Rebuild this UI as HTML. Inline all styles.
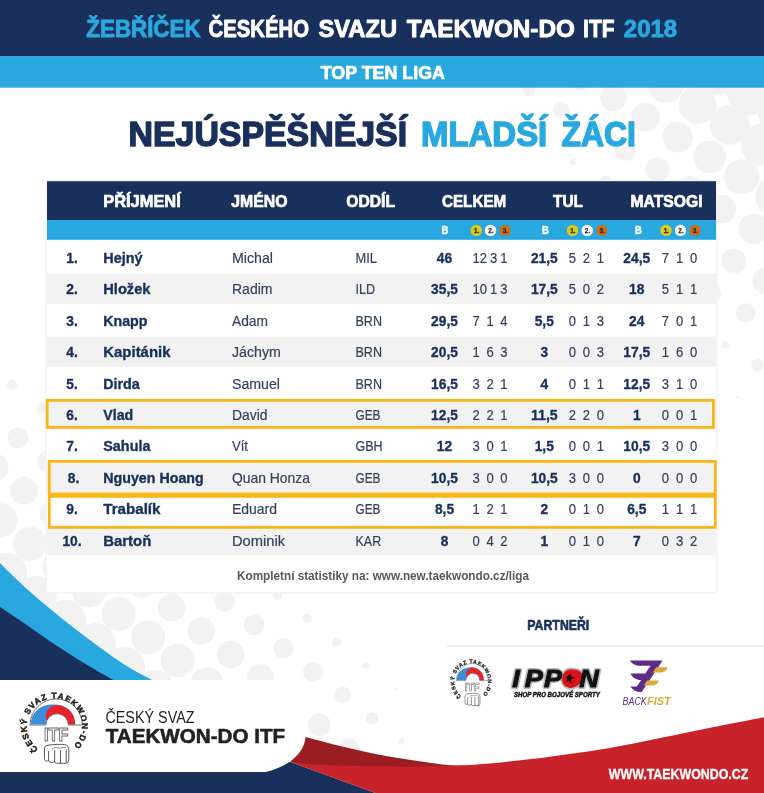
<!DOCTYPE html>
<html lang="cs"><head><meta charset="utf-8"><title>Žebříček Českého svazu Taekwon-Do ITF 2018</title>
<style>
html,body{margin:0;padding:0;background:#fff}
body{width:764px;height:793px;overflow:hidden}
svg{display:block;font-family:"Liberation Sans",sans-serif}
</style></head><body>
<svg width="764" height="793" viewBox="0 0 764 793">
<defs><clipPath id="cbody"><rect x="0" y="87" width="764" height="706"/></clipPath></defs>
<g fill="#f2f2f2" clip-path="url(#cbody)"><circle cx="464.9" cy="50.6" r="1.3"/><circle cx="497.0" cy="70.4" r="3.1"/><circle cx="549.2" cy="58.0" r="11.0"/><circle cx="529.1" cy="90.2" r="6.1"/><circle cx="581.3" cy="77.8" r="12.2"/><circle cx="561.2" cy="110.0" r="8.1"/><circle cx="541.1" cy="142.2" r="1.3"/><circle cx="633.5" cy="65.4" r="16.2"/><circle cx="613.4" cy="97.6" r="13.3"/><circle cx="593.3" cy="129.8" r="9.7"/><circle cx="573.2" cy="162.0" r="3.3"/><circle cx="685.7" cy="53.0" r="21.0"/><circle cx="665.6" cy="85.2" r="17.6"/><circle cx="645.5" cy="117.4" r="14.3"/><circle cx="625.4" cy="149.6" r="11.0"/><circle cx="605.3" cy="181.8" r="6.2"/><circle cx="585.2" cy="214.0" r="1.3"/><circle cx="717.8" cy="72.8" r="22.0"/><circle cx="697.7" cy="105.0" r="18.8"/><circle cx="677.6" cy="137.2" r="15.2"/><circle cx="657.5" cy="169.4" r="12.2"/><circle cx="637.4" cy="201.6" r="8.2"/><circle cx="617.3" cy="233.8" r="1.3"/><circle cx="770.0" cy="60.4" r="25.0"/><circle cx="749.9" cy="92.6" r="23.0"/><circle cx="729.8" cy="124.8" r="19.9"/><circle cx="709.7" cy="157.0" r="16.3"/><circle cx="689.6" cy="189.2" r="13.3"/><circle cx="669.5" cy="221.4" r="9.7"/><circle cx="649.4" cy="253.6" r="3.4"/><circle cx="782.0" cy="112.4" r="24.0"/><circle cx="761.9" cy="144.6" r="21.0"/><circle cx="741.8" cy="176.8" r="17.6"/><circle cx="721.7" cy="209.0" r="14.3"/><circle cx="701.6" cy="241.2" r="11.1"/><circle cx="681.5" cy="273.4" r="6.3"/><circle cx="661.4" cy="305.6" r="1.3"/><circle cx="794.0" cy="164.4" r="22.1"/><circle cx="773.9" cy="196.6" r="18.8"/><circle cx="753.8" cy="228.8" r="15.3"/><circle cx="733.7" cy="261.0" r="12.3"/><circle cx="713.6" cy="293.2" r="8.2"/><circle cx="693.5" cy="325.4" r="1.3"/><circle cx="785.9" cy="248.6" r="16.3"/><circle cx="765.8" cy="280.8" r="13.3"/><circle cx="745.7" cy="313.0" r="9.8"/><circle cx="725.6" cy="345.2" r="3.6"/><circle cx="777.8" cy="332.8" r="11.1"/><circle cx="757.7" cy="365.0" r="6.4"/><circle cx="737.6" cy="397.2" r="1.3"/><circle cx="789.8" cy="384.8" r="8.3"/><circle cx="769.7" cy="417.0" r="1.3"/></g>
<g fill="#f2f2f2" clip-path="url(#cbody)"><circle cx="-17.5" cy="361.4" r="5.1"/><circle cx="12.0" cy="384.8" r="5.1"/><circle cx="-11.5" cy="414.4" r="10.5"/><circle cx="41.5" cy="408.2" r="5.1"/><circle cx="18.0" cy="437.8" r="10.4"/><circle cx="-5.5" cy="467.4" r="13.9"/><circle cx="-29.0" cy="496.9" r="17.1"/><circle cx="71.0" cy="431.6" r="5.0"/><circle cx="47.5" cy="461.2" r="10.4"/><circle cx="24.0" cy="490.8" r="13.9"/><circle cx="0.6" cy="520.3" r="17.1"/><circle cx="-22.9" cy="549.9" r="20.6"/><circle cx="100.5" cy="455.0" r="5.0"/><circle cx="77.0" cy="484.6" r="10.4"/><circle cx="53.6" cy="514.1" r="13.8"/><circle cx="30.1" cy="543.7" r="17.0"/><circle cx="6.6" cy="573.3" r="20.6"/><circle cx="-16.9" cy="602.9" r="23.6"/><circle cx="130.0" cy="478.4" r="4.9"/><circle cx="106.6" cy="507.9" r="10.4"/><circle cx="83.1" cy="537.5" r="13.8"/><circle cx="59.6" cy="567.1" r="17.0"/><circle cx="36.1" cy="596.7" r="20.6"/><circle cx="12.6" cy="626.3" r="23.6"/><circle cx="-10.9" cy="655.9" r="25.0"/><circle cx="159.6" cy="501.7" r="4.9"/><circle cx="136.1" cy="531.3" r="10.4"/><circle cx="112.6" cy="560.9" r="13.8"/><circle cx="89.1" cy="590.5" r="17.0"/><circle cx="65.6" cy="620.1" r="20.5"/><circle cx="42.1" cy="649.7" r="23.6"/><circle cx="18.6" cy="679.3" r="25.0"/><circle cx="-4.9" cy="708.9" r="25.0"/><circle cx="-28.4" cy="738.5" r="25.0"/><circle cx="189.1" cy="525.1" r="4.8"/><circle cx="165.6" cy="554.7" r="10.3"/><circle cx="142.1" cy="584.3" r="13.8"/><circle cx="118.6" cy="613.9" r="17.0"/><circle cx="95.1" cy="643.5" r="20.5"/><circle cx="71.6" cy="673.1" r="23.6"/><circle cx="48.1" cy="702.7" r="25.0"/><circle cx="24.6" cy="732.3" r="25.0"/><circle cx="1.2" cy="761.9" r="25.0"/><circle cx="-22.3" cy="791.4" r="25.0"/><circle cx="218.6" cy="548.5" r="4.8"/><circle cx="195.1" cy="578.1" r="10.3"/><circle cx="171.6" cy="607.7" r="13.8"/><circle cx="148.1" cy="637.3" r="17.0"/><circle cx="124.6" cy="666.9" r="20.5"/><circle cx="101.1" cy="696.5" r="23.5"/><circle cx="77.6" cy="726.1" r="25.0"/><circle cx="54.2" cy="755.7" r="25.0"/><circle cx="30.7" cy="785.2" r="25.0"/><circle cx="7.2" cy="814.8" r="25.0"/><circle cx="248.1" cy="571.9" r="4.7"/><circle cx="224.6" cy="601.5" r="10.3"/><circle cx="201.1" cy="631.1" r="13.8"/><circle cx="177.6" cy="660.7" r="16.9"/><circle cx="154.1" cy="690.3" r="20.5"/><circle cx="130.6" cy="719.9" r="23.4"/><circle cx="107.1" cy="749.5" r="25.0"/><circle cx="83.7" cy="779.0" r="25.0"/><circle cx="60.2" cy="808.6" r="25.0"/><circle cx="277.6" cy="595.3" r="4.7"/><circle cx="254.1" cy="624.9" r="10.3"/><circle cx="230.6" cy="654.5" r="13.7"/><circle cx="207.1" cy="684.1" r="16.9"/><circle cx="183.6" cy="713.7" r="20.0"/><circle cx="160.2" cy="743.2" r="22.3"/><circle cx="136.7" cy="772.8" r="24.4"/><circle cx="113.2" cy="802.4" r="25.0"/><circle cx="307.1" cy="618.7" r="4.7"/><circle cx="283.6" cy="648.3" r="10.3"/><circle cx="260.1" cy="677.9" r="13.7"/><circle cx="236.6" cy="707.5" r="16.0"/><circle cx="213.2" cy="737.0" r="18.7"/><circle cx="189.7" cy="766.6" r="21.2"/><circle cx="166.2" cy="796.2" r="23.4"/><circle cx="336.6" cy="642.1" r="4.6"/><circle cx="313.1" cy="671.7" r="10.0"/><circle cx="289.6" cy="701.3" r="12.7"/><circle cx="266.1" cy="730.9" r="14.9"/><circle cx="242.7" cy="760.4" r="17.4"/><circle cx="219.2" cy="790.0" r="20.0"/><circle cx="195.7" cy="819.6" r="22.3"/><circle cx="366.1" cy="665.5" r="3.1"/><circle cx="342.6" cy="695.1" r="8.4"/><circle cx="319.1" cy="724.7" r="11.4"/><circle cx="295.7" cy="754.2" r="13.8"/><circle cx="272.2" cy="783.8" r="15.9"/><circle cx="248.7" cy="813.4" r="18.7"/><circle cx="395.6" cy="688.9" r="1.3"/><circle cx="372.1" cy="718.5" r="6.3"/><circle cx="348.7" cy="748.0" r="10.0"/><circle cx="325.2" cy="777.6" r="12.7"/><circle cx="301.7" cy="807.2" r="14.9"/><circle cx="401.7" cy="741.8" r="2.9"/><circle cx="378.2" cy="771.4" r="8.3"/><circle cx="354.7" cy="801.0" r="11.4"/><circle cx="431.2" cy="765.2" r="1.3"/><circle cx="407.7" cy="794.8" r="6.2"/><circle cx="437.2" cy="818.2" r="2.6"/></g>
<rect x="0" y="0" width="764" height="56.5" fill="#1a305c"/>
<rect x="0" y="56.3" width="764" height="31.4" fill="#29a8e0"/>
<text x="86.35" y="37.00" font-size="24" font-weight="bold" stroke="#29a8e0" stroke-width="0.9" stroke-linejoin="round" fill="#29a8e0" text-anchor="start" textLength="114.20" lengthAdjust="spacingAndGlyphs">ŽEBŘÍČEK</text>
<text x="208.55" y="37.00" font-size="24" font-weight="bold" stroke="#fff" stroke-width="0.9" stroke-linejoin="round" fill="#fff" text-anchor="start" textLength="100.40" lengthAdjust="spacingAndGlyphs">ČESKÉHO</text>
<text x="318.45" y="37.00" font-size="24" font-weight="bold" stroke="#fff" stroke-width="0.9" stroke-linejoin="round" fill="#fff" text-anchor="start" textLength="78.60" lengthAdjust="spacingAndGlyphs">SVAZU</text>
<text x="406.65" y="37.00" font-size="24" font-weight="bold" stroke="#fff" stroke-width="0.9" stroke-linejoin="round" fill="#fff" text-anchor="start" textLength="168.20" lengthAdjust="spacingAndGlyphs">TAEKWON-DO</text>
<text x="583.05" y="37.00" font-size="24" font-weight="bold" stroke="#fff" stroke-width="0.9" stroke-linejoin="round" fill="#fff" text-anchor="start" textLength="31.50" lengthAdjust="spacingAndGlyphs">ITF</text>
<text x="623.85" y="37.00" font-size="24" font-weight="bold" stroke="#29a8e0" stroke-width="0.9" stroke-linejoin="round" fill="#29a8e0" text-anchor="start" textLength="53.20" lengthAdjust="spacingAndGlyphs">2018</text>
<text x="320.80" y="79.00" font-size="17.9" font-weight="bold" stroke="#fff" stroke-width="0.7" stroke-linejoin="round" fill="#fff" text-anchor="start" textLength="124.10" lengthAdjust="spacingAndGlyphs">TOP TEN LIGA</text>
<text x="128.55" y="146.00" font-size="34.9" font-weight="bold" stroke="#1a305c" stroke-width="1.5" stroke-linejoin="round" fill="#1a305c" text-anchor="start" textLength="278.50" lengthAdjust="spacingAndGlyphs">NEJÚSPĚŠNĚJŠÍ</text>
<text x="421.05" y="146.00" font-size="34.9" font-weight="bold" stroke="#29a8e0" stroke-width="1.5" stroke-linejoin="round" fill="#29a8e0" text-anchor="start" textLength="126.20" lengthAdjust="spacingAndGlyphs">MLADŠÍ</text>
<text x="561.55" y="146.00" font-size="34.9" font-weight="bold" stroke="#29a8e0" stroke-width="1.5" stroke-linejoin="round" fill="#29a8e0" text-anchor="start" textLength="74.30" lengthAdjust="spacingAndGlyphs">ŽÁCI</text>
<rect x="45.5" y="180" width="672" height="413.6" fill="#f4f4f4"/>
<rect x="47" y="181" width="669" height="411" fill="#fff"/>
<rect x="47" y="181.2" width="669" height="39" fill="#1a305c"/>
<rect x="47" y="220" width="669" height="19.8" fill="#29a8e0"/>
<rect x="47" y="273.5" width="669" height="30.3" fill="#f2f2f2"/>
<rect x="47" y="336.6" width="669" height="30.6" fill="#f2f2f2"/>
<rect x="47" y="399.3" width="669" height="30.2" fill="#f2f2f2"/>
<rect x="47" y="461.5" width="669" height="32.0" fill="#f2f2f2"/>
<rect x="47" y="524.5" width="669" height="30.8" fill="#f2f2f2"/>
<text x="103.25" y="207.00" font-size="17.4" font-weight="bold" stroke="#fff" stroke-width="0.7" stroke-linejoin="round" fill="#fff" text-anchor="start" textLength="77.50" lengthAdjust="spacingAndGlyphs">PŘÍJMENÍ</text>
<text x="231.25" y="207.00" font-size="17.4" font-weight="bold" stroke="#fff" stroke-width="0.7" stroke-linejoin="round" fill="#fff" text-anchor="start" textLength="56.20" lengthAdjust="spacingAndGlyphs">JMÉNO</text>
<text x="346.25" y="207.00" font-size="17.4" font-weight="bold" stroke="#fff" stroke-width="0.7" stroke-linejoin="round" fill="#fff" text-anchor="start" textLength="48.80" lengthAdjust="spacingAndGlyphs">ODDÍL</text>
<text x="442.00" y="207.00" font-size="17.4" font-weight="bold" stroke="#fff" stroke-width="0.7" stroke-linejoin="round" fill="#fff" text-anchor="start" textLength="64.20" lengthAdjust="spacingAndGlyphs">CELKEM</text>
<text x="553.00" y="207.00" font-size="17.4" font-weight="bold" stroke="#fff" stroke-width="0.7" stroke-linejoin="round" fill="#fff" text-anchor="start" textLength="30.00" lengthAdjust="spacingAndGlyphs">TUL</text>
<text x="630.50" y="207.00" font-size="17.4" font-weight="bold" stroke="#fff" stroke-width="0.7" stroke-linejoin="round" fill="#fff" text-anchor="start" textLength="72.00" lengthAdjust="spacingAndGlyphs">MATSOGI</text>
<text x="445.00" y="234.00" font-size="11" font-weight="bold" stroke="#fff" stroke-width="0.5" stroke-linejoin="round" fill="#fff" text-anchor="middle" textLength="6.80" lengthAdjust="spacingAndGlyphs">B</text>
<text x="545.50" y="234.00" font-size="11" font-weight="bold" stroke="#fff" stroke-width="0.5" stroke-linejoin="round" fill="#fff" text-anchor="middle" textLength="6.80" lengthAdjust="spacingAndGlyphs">B</text>
<text x="638.50" y="234.00" font-size="11" font-weight="bold" stroke="#fff" stroke-width="0.5" stroke-linejoin="round" fill="#fff" text-anchor="middle" textLength="6.80" lengthAdjust="spacingAndGlyphs">B</text>
<circle cx="476.25" cy="230.4" r="5.7" fill="#dccb1f"/>
<text x="476.55" y="232.70" font-size="6.4" font-weight="bold" stroke="#2a2a2a" stroke-width="0.25" stroke-linejoin="round" fill="#2a2a2a" text-anchor="middle">1.</text>
<circle cx="490.5" cy="230.4" r="5.7" fill="#ffffff"/>
<text x="490.80" y="232.70" font-size="6.4" font-weight="bold" stroke="#2a2a2a" stroke-width="0.25" stroke-linejoin="round" fill="#2a2a2a" text-anchor="middle">2.</text>
<circle cx="505" cy="230.4" r="5.7" fill="#c8701f"/>
<text x="505.30" y="232.70" font-size="6.4" font-weight="bold" stroke="#2a2a2a" stroke-width="0.25" stroke-linejoin="round" fill="#2a2a2a" text-anchor="middle">3.</text>
<circle cx="572.5" cy="230.4" r="5.7" fill="#dccb1f"/>
<text x="572.80" y="232.70" font-size="6.4" font-weight="bold" stroke="#2a2a2a" stroke-width="0.25" stroke-linejoin="round" fill="#2a2a2a" text-anchor="middle">1.</text>
<circle cx="587.2" cy="230.4" r="5.7" fill="#ffffff"/>
<text x="587.50" y="232.70" font-size="6.4" font-weight="bold" stroke="#2a2a2a" stroke-width="0.25" stroke-linejoin="round" fill="#2a2a2a" text-anchor="middle">2.</text>
<circle cx="601.75" cy="230.4" r="5.7" fill="#c8701f"/>
<text x="602.05" y="232.70" font-size="6.4" font-weight="bold" stroke="#2a2a2a" stroke-width="0.25" stroke-linejoin="round" fill="#2a2a2a" text-anchor="middle">3.</text>
<circle cx="666" cy="230.4" r="5.7" fill="#dccb1f"/>
<text x="666.30" y="232.70" font-size="6.4" font-weight="bold" stroke="#2a2a2a" stroke-width="0.25" stroke-linejoin="round" fill="#2a2a2a" text-anchor="middle">1.</text>
<circle cx="680.5" cy="230.4" r="5.7" fill="#ffffff"/>
<text x="680.80" y="232.70" font-size="6.4" font-weight="bold" stroke="#2a2a2a" stroke-width="0.25" stroke-linejoin="round" fill="#2a2a2a" text-anchor="middle">2.</text>
<circle cx="695" cy="230.4" r="5.7" fill="#c8701f"/>
<text x="695.30" y="232.70" font-size="6.4" font-weight="bold" stroke="#2a2a2a" stroke-width="0.25" stroke-linejoin="round" fill="#2a2a2a" text-anchor="middle">3.</text>
<text x="72.00" y="263.00" font-size="14.5" font-weight="bold" stroke="#1a305c" stroke-width="0.35" stroke-linejoin="round" fill="#1a305c" text-anchor="middle" textLength="11.49" lengthAdjust="spacingAndGlyphs">1.</text>
<text x="103.25" y="263.00" font-size="14.5" font-weight="bold" stroke="#1a305c" stroke-width="0.35" stroke-linejoin="round" fill="#1a305c" text-anchor="start" textLength="39.25" lengthAdjust="spacingAndGlyphs">Hejný</text>
<text x="232.00" y="263.00" font-size="14.5" font-weight="normal" stroke="#34425f" stroke-width="0.2" stroke-linejoin="round" fill="#34425f" text-anchor="start" textLength="41.00" lengthAdjust="spacingAndGlyphs">Michal</text>
<text x="355.50" y="263.00" font-size="14.5" font-weight="normal" stroke="#34425f" stroke-width="0.2" stroke-linejoin="round" fill="#34425f" text-anchor="start" textLength="21.50" lengthAdjust="spacingAndGlyphs">MIL</text>
<text x="444.50" y="263.00" font-size="14.5" font-weight="bold" stroke="#1a305c" stroke-width="0.35" stroke-linejoin="round" fill="#1a305c" text-anchor="middle" textLength="15.32" lengthAdjust="spacingAndGlyphs">46</text>
<text x="479.85" y="263.00" font-size="14.5" font-weight="normal" stroke="#34425f" stroke-width="0.2" stroke-linejoin="round" fill="#34425f" text-anchor="middle" textLength="14.52" lengthAdjust="spacingAndGlyphs">12</text>
<text x="493.65" y="263.00" font-size="14.5" font-weight="normal" stroke="#34425f" stroke-width="0.2" stroke-linejoin="round" fill="#34425f" text-anchor="middle" textLength="7.26" lengthAdjust="spacingAndGlyphs">3</text>
<text x="504.00" y="263.00" font-size="14.5" font-weight="normal" stroke="#34425f" stroke-width="0.2" stroke-linejoin="round" fill="#34425f" text-anchor="middle" textLength="7.26" lengthAdjust="spacingAndGlyphs">1</text>
<text x="544.30" y="263.00" font-size="14.5" font-weight="bold" stroke="#1a305c" stroke-width="0.35" stroke-linejoin="round" fill="#1a305c" text-anchor="middle" textLength="26.81" lengthAdjust="spacingAndGlyphs">21,5</text>
<text x="572.50" y="263.00" font-size="14.5" font-weight="normal" stroke="#34425f" stroke-width="0.2" stroke-linejoin="round" fill="#34425f" text-anchor="middle" textLength="7.26" lengthAdjust="spacingAndGlyphs">5</text>
<text x="586.40" y="263.00" font-size="14.5" font-weight="normal" stroke="#34425f" stroke-width="0.2" stroke-linejoin="round" fill="#34425f" text-anchor="middle" textLength="7.26" lengthAdjust="spacingAndGlyphs">2</text>
<text x="600.30" y="263.00" font-size="14.5" font-weight="normal" stroke="#34425f" stroke-width="0.2" stroke-linejoin="round" fill="#34425f" text-anchor="middle" textLength="7.26" lengthAdjust="spacingAndGlyphs">1</text>
<text x="636.75" y="263.00" font-size="14.5" font-weight="bold" stroke="#1a305c" stroke-width="0.35" stroke-linejoin="round" fill="#1a305c" text-anchor="middle" textLength="26.81" lengthAdjust="spacingAndGlyphs">24,5</text>
<text x="665.50" y="263.00" font-size="14.5" font-weight="normal" stroke="#34425f" stroke-width="0.2" stroke-linejoin="round" fill="#34425f" text-anchor="middle" textLength="7.26" lengthAdjust="spacingAndGlyphs">7</text>
<text x="679.75" y="263.00" font-size="14.5" font-weight="normal" stroke="#34425f" stroke-width="0.2" stroke-linejoin="round" fill="#34425f" text-anchor="middle" textLength="7.26" lengthAdjust="spacingAndGlyphs">1</text>
<text x="693.75" y="263.00" font-size="14.5" font-weight="normal" stroke="#34425f" stroke-width="0.2" stroke-linejoin="round" fill="#34425f" text-anchor="middle" textLength="7.26" lengthAdjust="spacingAndGlyphs">0</text>
<text x="72.00" y="294.40" font-size="14.5" font-weight="bold" stroke="#1a305c" stroke-width="0.35" stroke-linejoin="round" fill="#1a305c" text-anchor="middle" textLength="11.49" lengthAdjust="spacingAndGlyphs">2.</text>
<text x="103.25" y="294.40" font-size="14.5" font-weight="bold" stroke="#1a305c" stroke-width="0.35" stroke-linejoin="round" fill="#1a305c" text-anchor="start" textLength="47.25" lengthAdjust="spacingAndGlyphs">Hložek</text>
<text x="232.00" y="294.40" font-size="14.5" font-weight="normal" stroke="#34425f" stroke-width="0.2" stroke-linejoin="round" fill="#34425f" text-anchor="start" textLength="40.50" lengthAdjust="spacingAndGlyphs">Radim</text>
<text x="355.50" y="294.40" font-size="14.5" font-weight="normal" stroke="#34425f" stroke-width="0.2" stroke-linejoin="round" fill="#34425f" text-anchor="start" textLength="19.50" lengthAdjust="spacingAndGlyphs">ILD</text>
<text x="444.50" y="294.40" font-size="14.5" font-weight="bold" stroke="#1a305c" stroke-width="0.35" stroke-linejoin="round" fill="#1a305c" text-anchor="middle" textLength="26.81" lengthAdjust="spacingAndGlyphs">35,5</text>
<text x="479.85" y="294.40" font-size="14.5" font-weight="normal" stroke="#34425f" stroke-width="0.2" stroke-linejoin="round" fill="#34425f" text-anchor="middle" textLength="14.52" lengthAdjust="spacingAndGlyphs">10</text>
<text x="493.65" y="294.40" font-size="14.5" font-weight="normal" stroke="#34425f" stroke-width="0.2" stroke-linejoin="round" fill="#34425f" text-anchor="middle" textLength="7.26" lengthAdjust="spacingAndGlyphs">1</text>
<text x="504.00" y="294.40" font-size="14.5" font-weight="normal" stroke="#34425f" stroke-width="0.2" stroke-linejoin="round" fill="#34425f" text-anchor="middle" textLength="7.26" lengthAdjust="spacingAndGlyphs">3</text>
<text x="544.30" y="294.40" font-size="14.5" font-weight="bold" stroke="#1a305c" stroke-width="0.35" stroke-linejoin="round" fill="#1a305c" text-anchor="middle" textLength="26.81" lengthAdjust="spacingAndGlyphs">17,5</text>
<text x="572.50" y="294.40" font-size="14.5" font-weight="normal" stroke="#34425f" stroke-width="0.2" stroke-linejoin="round" fill="#34425f" text-anchor="middle" textLength="7.26" lengthAdjust="spacingAndGlyphs">5</text>
<text x="586.40" y="294.40" font-size="14.5" font-weight="normal" stroke="#34425f" stroke-width="0.2" stroke-linejoin="round" fill="#34425f" text-anchor="middle" textLength="7.26" lengthAdjust="spacingAndGlyphs">0</text>
<text x="600.30" y="294.40" font-size="14.5" font-weight="normal" stroke="#34425f" stroke-width="0.2" stroke-linejoin="round" fill="#34425f" text-anchor="middle" textLength="7.26" lengthAdjust="spacingAndGlyphs">2</text>
<text x="636.75" y="294.40" font-size="14.5" font-weight="bold" stroke="#1a305c" stroke-width="0.35" stroke-linejoin="round" fill="#1a305c" text-anchor="middle" textLength="15.32" lengthAdjust="spacingAndGlyphs">18</text>
<text x="665.50" y="294.40" font-size="14.5" font-weight="normal" stroke="#34425f" stroke-width="0.2" stroke-linejoin="round" fill="#34425f" text-anchor="middle" textLength="7.26" lengthAdjust="spacingAndGlyphs">5</text>
<text x="679.75" y="294.40" font-size="14.5" font-weight="normal" stroke="#34425f" stroke-width="0.2" stroke-linejoin="round" fill="#34425f" text-anchor="middle" textLength="7.26" lengthAdjust="spacingAndGlyphs">1</text>
<text x="693.75" y="294.40" font-size="14.5" font-weight="normal" stroke="#34425f" stroke-width="0.2" stroke-linejoin="round" fill="#34425f" text-anchor="middle" textLength="7.26" lengthAdjust="spacingAndGlyphs">1</text>
<text x="72.00" y="325.80" font-size="14.5" font-weight="bold" stroke="#1a305c" stroke-width="0.35" stroke-linejoin="round" fill="#1a305c" text-anchor="middle" textLength="11.49" lengthAdjust="spacingAndGlyphs">3.</text>
<text x="103.25" y="325.80" font-size="14.5" font-weight="bold" stroke="#1a305c" stroke-width="0.35" stroke-linejoin="round" fill="#1a305c" text-anchor="start" textLength="44.25" lengthAdjust="spacingAndGlyphs">Knapp</text>
<text x="232.00" y="325.80" font-size="14.5" font-weight="normal" stroke="#34425f" stroke-width="0.2" stroke-linejoin="round" fill="#34425f" text-anchor="start" textLength="36.00" lengthAdjust="spacingAndGlyphs">Adam</text>
<text x="355.50" y="325.80" font-size="14.5" font-weight="normal" stroke="#34425f" stroke-width="0.2" stroke-linejoin="round" fill="#34425f" text-anchor="start" textLength="26.50" lengthAdjust="spacingAndGlyphs">BRN</text>
<text x="444.50" y="325.80" font-size="14.5" font-weight="bold" stroke="#1a305c" stroke-width="0.35" stroke-linejoin="round" fill="#1a305c" text-anchor="middle" textLength="26.81" lengthAdjust="spacingAndGlyphs">29,5</text>
<text x="476.25" y="325.80" font-size="14.5" font-weight="normal" stroke="#34425f" stroke-width="0.2" stroke-linejoin="round" fill="#34425f" text-anchor="middle" textLength="7.26" lengthAdjust="spacingAndGlyphs">7</text>
<text x="490.25" y="325.80" font-size="14.5" font-weight="normal" stroke="#34425f" stroke-width="0.2" stroke-linejoin="round" fill="#34425f" text-anchor="middle" textLength="7.26" lengthAdjust="spacingAndGlyphs">1</text>
<text x="504.00" y="325.80" font-size="14.5" font-weight="normal" stroke="#34425f" stroke-width="0.2" stroke-linejoin="round" fill="#34425f" text-anchor="middle" textLength="7.26" lengthAdjust="spacingAndGlyphs">4</text>
<text x="544.30" y="325.80" font-size="14.5" font-weight="bold" stroke="#1a305c" stroke-width="0.35" stroke-linejoin="round" fill="#1a305c" text-anchor="middle" textLength="19.15" lengthAdjust="spacingAndGlyphs">5,5</text>
<text x="572.50" y="325.80" font-size="14.5" font-weight="normal" stroke="#34425f" stroke-width="0.2" stroke-linejoin="round" fill="#34425f" text-anchor="middle" textLength="7.26" lengthAdjust="spacingAndGlyphs">0</text>
<text x="586.40" y="325.80" font-size="14.5" font-weight="normal" stroke="#34425f" stroke-width="0.2" stroke-linejoin="round" fill="#34425f" text-anchor="middle" textLength="7.26" lengthAdjust="spacingAndGlyphs">1</text>
<text x="600.30" y="325.80" font-size="14.5" font-weight="normal" stroke="#34425f" stroke-width="0.2" stroke-linejoin="round" fill="#34425f" text-anchor="middle" textLength="7.26" lengthAdjust="spacingAndGlyphs">3</text>
<text x="636.75" y="325.80" font-size="14.5" font-weight="bold" stroke="#1a305c" stroke-width="0.35" stroke-linejoin="round" fill="#1a305c" text-anchor="middle" textLength="15.32" lengthAdjust="spacingAndGlyphs">24</text>
<text x="665.50" y="325.80" font-size="14.5" font-weight="normal" stroke="#34425f" stroke-width="0.2" stroke-linejoin="round" fill="#34425f" text-anchor="middle" textLength="7.26" lengthAdjust="spacingAndGlyphs">7</text>
<text x="679.75" y="325.80" font-size="14.5" font-weight="normal" stroke="#34425f" stroke-width="0.2" stroke-linejoin="round" fill="#34425f" text-anchor="middle" textLength="7.26" lengthAdjust="spacingAndGlyphs">0</text>
<text x="693.75" y="325.80" font-size="14.5" font-weight="normal" stroke="#34425f" stroke-width="0.2" stroke-linejoin="round" fill="#34425f" text-anchor="middle" textLength="7.26" lengthAdjust="spacingAndGlyphs">1</text>
<text x="72.00" y="357.20" font-size="14.5" font-weight="bold" stroke="#1a305c" stroke-width="0.35" stroke-linejoin="round" fill="#1a305c" text-anchor="middle" textLength="11.49" lengthAdjust="spacingAndGlyphs">4.</text>
<text x="103.25" y="357.20" font-size="14.5" font-weight="bold" stroke="#1a305c" stroke-width="0.35" stroke-linejoin="round" fill="#1a305c" text-anchor="start" textLength="67.25" lengthAdjust="spacingAndGlyphs">Kapitánik</text>
<text x="232.00" y="357.20" font-size="14.5" font-weight="normal" stroke="#34425f" stroke-width="0.2" stroke-linejoin="round" fill="#34425f" text-anchor="start" textLength="48.75" lengthAdjust="spacingAndGlyphs">Jáchym</text>
<text x="355.50" y="357.20" font-size="14.5" font-weight="normal" stroke="#34425f" stroke-width="0.2" stroke-linejoin="round" fill="#34425f" text-anchor="start" textLength="26.50" lengthAdjust="spacingAndGlyphs">BRN</text>
<text x="444.50" y="357.20" font-size="14.5" font-weight="bold" stroke="#1a305c" stroke-width="0.35" stroke-linejoin="round" fill="#1a305c" text-anchor="middle" textLength="26.81" lengthAdjust="spacingAndGlyphs">20,5</text>
<text x="476.25" y="357.20" font-size="14.5" font-weight="normal" stroke="#34425f" stroke-width="0.2" stroke-linejoin="round" fill="#34425f" text-anchor="middle" textLength="7.26" lengthAdjust="spacingAndGlyphs">1</text>
<text x="490.25" y="357.20" font-size="14.5" font-weight="normal" stroke="#34425f" stroke-width="0.2" stroke-linejoin="round" fill="#34425f" text-anchor="middle" textLength="7.26" lengthAdjust="spacingAndGlyphs">6</text>
<text x="504.00" y="357.20" font-size="14.5" font-weight="normal" stroke="#34425f" stroke-width="0.2" stroke-linejoin="round" fill="#34425f" text-anchor="middle" textLength="7.26" lengthAdjust="spacingAndGlyphs">3</text>
<text x="544.30" y="357.20" font-size="14.5" font-weight="bold" stroke="#1a305c" stroke-width="0.35" stroke-linejoin="round" fill="#1a305c" text-anchor="middle" textLength="7.66" lengthAdjust="spacingAndGlyphs">3</text>
<text x="572.50" y="357.20" font-size="14.5" font-weight="normal" stroke="#34425f" stroke-width="0.2" stroke-linejoin="round" fill="#34425f" text-anchor="middle" textLength="7.26" lengthAdjust="spacingAndGlyphs">0</text>
<text x="586.40" y="357.20" font-size="14.5" font-weight="normal" stroke="#34425f" stroke-width="0.2" stroke-linejoin="round" fill="#34425f" text-anchor="middle" textLength="7.26" lengthAdjust="spacingAndGlyphs">0</text>
<text x="600.30" y="357.20" font-size="14.5" font-weight="normal" stroke="#34425f" stroke-width="0.2" stroke-linejoin="round" fill="#34425f" text-anchor="middle" textLength="7.26" lengthAdjust="spacingAndGlyphs">3</text>
<text x="636.75" y="357.20" font-size="14.5" font-weight="bold" stroke="#1a305c" stroke-width="0.35" stroke-linejoin="round" fill="#1a305c" text-anchor="middle" textLength="26.81" lengthAdjust="spacingAndGlyphs">17,5</text>
<text x="665.50" y="357.20" font-size="14.5" font-weight="normal" stroke="#34425f" stroke-width="0.2" stroke-linejoin="round" fill="#34425f" text-anchor="middle" textLength="7.26" lengthAdjust="spacingAndGlyphs">1</text>
<text x="679.75" y="357.20" font-size="14.5" font-weight="normal" stroke="#34425f" stroke-width="0.2" stroke-linejoin="round" fill="#34425f" text-anchor="middle" textLength="7.26" lengthAdjust="spacingAndGlyphs">6</text>
<text x="693.75" y="357.20" font-size="14.5" font-weight="normal" stroke="#34425f" stroke-width="0.2" stroke-linejoin="round" fill="#34425f" text-anchor="middle" textLength="7.26" lengthAdjust="spacingAndGlyphs">0</text>
<text x="72.00" y="388.60" font-size="14.5" font-weight="bold" stroke="#1a305c" stroke-width="0.35" stroke-linejoin="round" fill="#1a305c" text-anchor="middle" textLength="11.49" lengthAdjust="spacingAndGlyphs">5.</text>
<text x="103.25" y="388.60" font-size="14.5" font-weight="bold" stroke="#1a305c" stroke-width="0.35" stroke-linejoin="round" fill="#1a305c" text-anchor="start" textLength="36.50" lengthAdjust="spacingAndGlyphs">Dirda</text>
<text x="232.00" y="388.60" font-size="14.5" font-weight="normal" stroke="#34425f" stroke-width="0.2" stroke-linejoin="round" fill="#34425f" text-anchor="start" textLength="48.00" lengthAdjust="spacingAndGlyphs">Samuel</text>
<text x="355.50" y="388.60" font-size="14.5" font-weight="normal" stroke="#34425f" stroke-width="0.2" stroke-linejoin="round" fill="#34425f" text-anchor="start" textLength="26.50" lengthAdjust="spacingAndGlyphs">BRN</text>
<text x="444.50" y="388.60" font-size="14.5" font-weight="bold" stroke="#1a305c" stroke-width="0.35" stroke-linejoin="round" fill="#1a305c" text-anchor="middle" textLength="26.81" lengthAdjust="spacingAndGlyphs">16,5</text>
<text x="476.25" y="388.60" font-size="14.5" font-weight="normal" stroke="#34425f" stroke-width="0.2" stroke-linejoin="round" fill="#34425f" text-anchor="middle" textLength="7.26" lengthAdjust="spacingAndGlyphs">3</text>
<text x="490.25" y="388.60" font-size="14.5" font-weight="normal" stroke="#34425f" stroke-width="0.2" stroke-linejoin="round" fill="#34425f" text-anchor="middle" textLength="7.26" lengthAdjust="spacingAndGlyphs">2</text>
<text x="504.00" y="388.60" font-size="14.5" font-weight="normal" stroke="#34425f" stroke-width="0.2" stroke-linejoin="round" fill="#34425f" text-anchor="middle" textLength="7.26" lengthAdjust="spacingAndGlyphs">1</text>
<text x="544.30" y="388.60" font-size="14.5" font-weight="bold" stroke="#1a305c" stroke-width="0.35" stroke-linejoin="round" fill="#1a305c" text-anchor="middle" textLength="7.66" lengthAdjust="spacingAndGlyphs">4</text>
<text x="572.50" y="388.60" font-size="14.5" font-weight="normal" stroke="#34425f" stroke-width="0.2" stroke-linejoin="round" fill="#34425f" text-anchor="middle" textLength="7.26" lengthAdjust="spacingAndGlyphs">0</text>
<text x="586.40" y="388.60" font-size="14.5" font-weight="normal" stroke="#34425f" stroke-width="0.2" stroke-linejoin="round" fill="#34425f" text-anchor="middle" textLength="7.26" lengthAdjust="spacingAndGlyphs">1</text>
<text x="600.30" y="388.60" font-size="14.5" font-weight="normal" stroke="#34425f" stroke-width="0.2" stroke-linejoin="round" fill="#34425f" text-anchor="middle" textLength="7.26" lengthAdjust="spacingAndGlyphs">1</text>
<text x="636.75" y="388.60" font-size="14.5" font-weight="bold" stroke="#1a305c" stroke-width="0.35" stroke-linejoin="round" fill="#1a305c" text-anchor="middle" textLength="26.81" lengthAdjust="spacingAndGlyphs">12,5</text>
<text x="665.50" y="388.60" font-size="14.5" font-weight="normal" stroke="#34425f" stroke-width="0.2" stroke-linejoin="round" fill="#34425f" text-anchor="middle" textLength="7.26" lengthAdjust="spacingAndGlyphs">3</text>
<text x="679.75" y="388.60" font-size="14.5" font-weight="normal" stroke="#34425f" stroke-width="0.2" stroke-linejoin="round" fill="#34425f" text-anchor="middle" textLength="7.26" lengthAdjust="spacingAndGlyphs">1</text>
<text x="693.75" y="388.60" font-size="14.5" font-weight="normal" stroke="#34425f" stroke-width="0.2" stroke-linejoin="round" fill="#34425f" text-anchor="middle" textLength="7.26" lengthAdjust="spacingAndGlyphs">0</text>
<text x="72.00" y="420.00" font-size="14.5" font-weight="bold" stroke="#1a305c" stroke-width="0.35" stroke-linejoin="round" fill="#1a305c" text-anchor="middle" textLength="11.49" lengthAdjust="spacingAndGlyphs">6.</text>
<text x="103.25" y="420.00" font-size="14.5" font-weight="bold" stroke="#1a305c" stroke-width="0.35" stroke-linejoin="round" fill="#1a305c" text-anchor="start" textLength="30.00" lengthAdjust="spacingAndGlyphs">Vlad</text>
<text x="232.00" y="420.00" font-size="14.5" font-weight="normal" stroke="#34425f" stroke-width="0.2" stroke-linejoin="round" fill="#34425f" text-anchor="start" textLength="35.50" lengthAdjust="spacingAndGlyphs">David</text>
<text x="355.50" y="420.00" font-size="14.5" font-weight="normal" stroke="#34425f" stroke-width="0.2" stroke-linejoin="round" fill="#34425f" text-anchor="start" textLength="25.00" lengthAdjust="spacingAndGlyphs">GEB</text>
<text x="444.50" y="420.00" font-size="14.5" font-weight="bold" stroke="#1a305c" stroke-width="0.35" stroke-linejoin="round" fill="#1a305c" text-anchor="middle" textLength="26.81" lengthAdjust="spacingAndGlyphs">12,5</text>
<text x="476.25" y="420.00" font-size="14.5" font-weight="normal" stroke="#34425f" stroke-width="0.2" stroke-linejoin="round" fill="#34425f" text-anchor="middle" textLength="7.26" lengthAdjust="spacingAndGlyphs">2</text>
<text x="490.25" y="420.00" font-size="14.5" font-weight="normal" stroke="#34425f" stroke-width="0.2" stroke-linejoin="round" fill="#34425f" text-anchor="middle" textLength="7.26" lengthAdjust="spacingAndGlyphs">2</text>
<text x="504.00" y="420.00" font-size="14.5" font-weight="normal" stroke="#34425f" stroke-width="0.2" stroke-linejoin="round" fill="#34425f" text-anchor="middle" textLength="7.26" lengthAdjust="spacingAndGlyphs">1</text>
<text x="544.30" y="420.00" font-size="14.5" font-weight="bold" stroke="#1a305c" stroke-width="0.35" stroke-linejoin="round" fill="#1a305c" text-anchor="middle" textLength="26.81" lengthAdjust="spacingAndGlyphs">11,5</text>
<text x="572.50" y="420.00" font-size="14.5" font-weight="normal" stroke="#34425f" stroke-width="0.2" stroke-linejoin="round" fill="#34425f" text-anchor="middle" textLength="7.26" lengthAdjust="spacingAndGlyphs">2</text>
<text x="586.40" y="420.00" font-size="14.5" font-weight="normal" stroke="#34425f" stroke-width="0.2" stroke-linejoin="round" fill="#34425f" text-anchor="middle" textLength="7.26" lengthAdjust="spacingAndGlyphs">2</text>
<text x="600.30" y="420.00" font-size="14.5" font-weight="normal" stroke="#34425f" stroke-width="0.2" stroke-linejoin="round" fill="#34425f" text-anchor="middle" textLength="7.26" lengthAdjust="spacingAndGlyphs">0</text>
<text x="636.75" y="420.00" font-size="14.5" font-weight="bold" stroke="#1a305c" stroke-width="0.35" stroke-linejoin="round" fill="#1a305c" text-anchor="middle" textLength="7.66" lengthAdjust="spacingAndGlyphs">1</text>
<text x="665.50" y="420.00" font-size="14.5" font-weight="normal" stroke="#34425f" stroke-width="0.2" stroke-linejoin="round" fill="#34425f" text-anchor="middle" textLength="7.26" lengthAdjust="spacingAndGlyphs">0</text>
<text x="679.75" y="420.00" font-size="14.5" font-weight="normal" stroke="#34425f" stroke-width="0.2" stroke-linejoin="round" fill="#34425f" text-anchor="middle" textLength="7.26" lengthAdjust="spacingAndGlyphs">0</text>
<text x="693.75" y="420.00" font-size="14.5" font-weight="normal" stroke="#34425f" stroke-width="0.2" stroke-linejoin="round" fill="#34425f" text-anchor="middle" textLength="7.26" lengthAdjust="spacingAndGlyphs">1</text>
<text x="72.00" y="451.40" font-size="14.5" font-weight="bold" stroke="#1a305c" stroke-width="0.35" stroke-linejoin="round" fill="#1a305c" text-anchor="middle" textLength="11.49" lengthAdjust="spacingAndGlyphs">7.</text>
<text x="103.25" y="451.40" font-size="14.5" font-weight="bold" stroke="#1a305c" stroke-width="0.35" stroke-linejoin="round" fill="#1a305c" text-anchor="start" textLength="47.25" lengthAdjust="spacingAndGlyphs">Sahula</text>
<text x="232.00" y="451.40" font-size="14.5" font-weight="normal" stroke="#34425f" stroke-width="0.2" stroke-linejoin="round" fill="#34425f" text-anchor="start" textLength="16.00" lengthAdjust="spacingAndGlyphs">Vít</text>
<text x="355.50" y="451.40" font-size="14.5" font-weight="normal" stroke="#34425f" stroke-width="0.2" stroke-linejoin="round" fill="#34425f" text-anchor="start" textLength="27.00" lengthAdjust="spacingAndGlyphs">GBH</text>
<text x="444.50" y="451.40" font-size="14.5" font-weight="bold" stroke="#1a305c" stroke-width="0.35" stroke-linejoin="round" fill="#1a305c" text-anchor="middle" textLength="15.32" lengthAdjust="spacingAndGlyphs">12</text>
<text x="476.25" y="451.40" font-size="14.5" font-weight="normal" stroke="#34425f" stroke-width="0.2" stroke-linejoin="round" fill="#34425f" text-anchor="middle" textLength="7.26" lengthAdjust="spacingAndGlyphs">3</text>
<text x="490.25" y="451.40" font-size="14.5" font-weight="normal" stroke="#34425f" stroke-width="0.2" stroke-linejoin="round" fill="#34425f" text-anchor="middle" textLength="7.26" lengthAdjust="spacingAndGlyphs">0</text>
<text x="504.00" y="451.40" font-size="14.5" font-weight="normal" stroke="#34425f" stroke-width="0.2" stroke-linejoin="round" fill="#34425f" text-anchor="middle" textLength="7.26" lengthAdjust="spacingAndGlyphs">1</text>
<text x="544.30" y="451.40" font-size="14.5" font-weight="bold" stroke="#1a305c" stroke-width="0.35" stroke-linejoin="round" fill="#1a305c" text-anchor="middle" textLength="19.15" lengthAdjust="spacingAndGlyphs">1,5</text>
<text x="572.50" y="451.40" font-size="14.5" font-weight="normal" stroke="#34425f" stroke-width="0.2" stroke-linejoin="round" fill="#34425f" text-anchor="middle" textLength="7.26" lengthAdjust="spacingAndGlyphs">0</text>
<text x="586.40" y="451.40" font-size="14.5" font-weight="normal" stroke="#34425f" stroke-width="0.2" stroke-linejoin="round" fill="#34425f" text-anchor="middle" textLength="7.26" lengthAdjust="spacingAndGlyphs">0</text>
<text x="600.30" y="451.40" font-size="14.5" font-weight="normal" stroke="#34425f" stroke-width="0.2" stroke-linejoin="round" fill="#34425f" text-anchor="middle" textLength="7.26" lengthAdjust="spacingAndGlyphs">1</text>
<text x="636.75" y="451.40" font-size="14.5" font-weight="bold" stroke="#1a305c" stroke-width="0.35" stroke-linejoin="round" fill="#1a305c" text-anchor="middle" textLength="26.81" lengthAdjust="spacingAndGlyphs">10,5</text>
<text x="665.50" y="451.40" font-size="14.5" font-weight="normal" stroke="#34425f" stroke-width="0.2" stroke-linejoin="round" fill="#34425f" text-anchor="middle" textLength="7.26" lengthAdjust="spacingAndGlyphs">3</text>
<text x="679.75" y="451.40" font-size="14.5" font-weight="normal" stroke="#34425f" stroke-width="0.2" stroke-linejoin="round" fill="#34425f" text-anchor="middle" textLength="7.26" lengthAdjust="spacingAndGlyphs">0</text>
<text x="693.75" y="451.40" font-size="14.5" font-weight="normal" stroke="#34425f" stroke-width="0.2" stroke-linejoin="round" fill="#34425f" text-anchor="middle" textLength="7.26" lengthAdjust="spacingAndGlyphs">0</text>
<text x="73.50" y="482.80" font-size="14.5" font-weight="bold" stroke="#1a305c" stroke-width="0.35" stroke-linejoin="round" fill="#1a305c" text-anchor="middle" textLength="11.49" lengthAdjust="spacingAndGlyphs">8.</text>
<text x="103.25" y="482.80" font-size="14.5" font-weight="bold" stroke="#1a305c" stroke-width="0.35" stroke-linejoin="round" fill="#1a305c" text-anchor="start" textLength="100.50" lengthAdjust="spacingAndGlyphs">Nguyen Hoang</text>
<text x="232.00" y="482.80" font-size="14.5" font-weight="normal" stroke="#34425f" stroke-width="0.2" stroke-linejoin="round" fill="#34425f" text-anchor="start" textLength="78.00" lengthAdjust="spacingAndGlyphs">Quan Honza</text>
<text x="355.50" y="482.80" font-size="14.5" font-weight="normal" stroke="#34425f" stroke-width="0.2" stroke-linejoin="round" fill="#34425f" text-anchor="start" textLength="25.00" lengthAdjust="spacingAndGlyphs">GEB</text>
<text x="444.50" y="482.80" font-size="14.5" font-weight="bold" stroke="#1a305c" stroke-width="0.35" stroke-linejoin="round" fill="#1a305c" text-anchor="middle" textLength="26.81" lengthAdjust="spacingAndGlyphs">10,5</text>
<text x="476.25" y="482.80" font-size="14.5" font-weight="normal" stroke="#34425f" stroke-width="0.2" stroke-linejoin="round" fill="#34425f" text-anchor="middle" textLength="7.26" lengthAdjust="spacingAndGlyphs">3</text>
<text x="490.25" y="482.80" font-size="14.5" font-weight="normal" stroke="#34425f" stroke-width="0.2" stroke-linejoin="round" fill="#34425f" text-anchor="middle" textLength="7.26" lengthAdjust="spacingAndGlyphs">0</text>
<text x="504.00" y="482.80" font-size="14.5" font-weight="normal" stroke="#34425f" stroke-width="0.2" stroke-linejoin="round" fill="#34425f" text-anchor="middle" textLength="7.26" lengthAdjust="spacingAndGlyphs">0</text>
<text x="544.30" y="482.80" font-size="14.5" font-weight="bold" stroke="#1a305c" stroke-width="0.35" stroke-linejoin="round" fill="#1a305c" text-anchor="middle" textLength="26.81" lengthAdjust="spacingAndGlyphs">10,5</text>
<text x="572.50" y="482.80" font-size="14.5" font-weight="normal" stroke="#34425f" stroke-width="0.2" stroke-linejoin="round" fill="#34425f" text-anchor="middle" textLength="7.26" lengthAdjust="spacingAndGlyphs">3</text>
<text x="586.40" y="482.80" font-size="14.5" font-weight="normal" stroke="#34425f" stroke-width="0.2" stroke-linejoin="round" fill="#34425f" text-anchor="middle" textLength="7.26" lengthAdjust="spacingAndGlyphs">0</text>
<text x="600.30" y="482.80" font-size="14.5" font-weight="normal" stroke="#34425f" stroke-width="0.2" stroke-linejoin="round" fill="#34425f" text-anchor="middle" textLength="7.26" lengthAdjust="spacingAndGlyphs">0</text>
<text x="636.75" y="482.80" font-size="14.5" font-weight="bold" stroke="#1a305c" stroke-width="0.35" stroke-linejoin="round" fill="#1a305c" text-anchor="middle" textLength="7.66" lengthAdjust="spacingAndGlyphs">0</text>
<text x="665.50" y="482.80" font-size="14.5" font-weight="normal" stroke="#34425f" stroke-width="0.2" stroke-linejoin="round" fill="#34425f" text-anchor="middle" textLength="7.26" lengthAdjust="spacingAndGlyphs">0</text>
<text x="679.75" y="482.80" font-size="14.5" font-weight="normal" stroke="#34425f" stroke-width="0.2" stroke-linejoin="round" fill="#34425f" text-anchor="middle" textLength="7.26" lengthAdjust="spacingAndGlyphs">0</text>
<text x="693.75" y="482.80" font-size="14.5" font-weight="normal" stroke="#34425f" stroke-width="0.2" stroke-linejoin="round" fill="#34425f" text-anchor="middle" textLength="7.26" lengthAdjust="spacingAndGlyphs">0</text>
<text x="72.00" y="514.20" font-size="14.5" font-weight="bold" stroke="#1a305c" stroke-width="0.35" stroke-linejoin="round" fill="#1a305c" text-anchor="middle" textLength="11.49" lengthAdjust="spacingAndGlyphs">9.</text>
<text x="103.25" y="514.20" font-size="14.5" font-weight="bold" stroke="#1a305c" stroke-width="0.35" stroke-linejoin="round" fill="#1a305c" text-anchor="start" textLength="57.25" lengthAdjust="spacingAndGlyphs">Trabalík</text>
<text x="232.00" y="514.20" font-size="14.5" font-weight="normal" stroke="#34425f" stroke-width="0.2" stroke-linejoin="round" fill="#34425f" text-anchor="start" textLength="45.00" lengthAdjust="spacingAndGlyphs">Eduard</text>
<text x="355.50" y="514.20" font-size="14.5" font-weight="normal" stroke="#34425f" stroke-width="0.2" stroke-linejoin="round" fill="#34425f" text-anchor="start" textLength="25.00" lengthAdjust="spacingAndGlyphs">GEB</text>
<text x="444.50" y="514.20" font-size="14.5" font-weight="bold" stroke="#1a305c" stroke-width="0.35" stroke-linejoin="round" fill="#1a305c" text-anchor="middle" textLength="19.15" lengthAdjust="spacingAndGlyphs">8,5</text>
<text x="476.25" y="514.20" font-size="14.5" font-weight="normal" stroke="#34425f" stroke-width="0.2" stroke-linejoin="round" fill="#34425f" text-anchor="middle" textLength="7.26" lengthAdjust="spacingAndGlyphs">1</text>
<text x="490.25" y="514.20" font-size="14.5" font-weight="normal" stroke="#34425f" stroke-width="0.2" stroke-linejoin="round" fill="#34425f" text-anchor="middle" textLength="7.26" lengthAdjust="spacingAndGlyphs">2</text>
<text x="504.00" y="514.20" font-size="14.5" font-weight="normal" stroke="#34425f" stroke-width="0.2" stroke-linejoin="round" fill="#34425f" text-anchor="middle" textLength="7.26" lengthAdjust="spacingAndGlyphs">1</text>
<text x="544.30" y="514.20" font-size="14.5" font-weight="bold" stroke="#1a305c" stroke-width="0.35" stroke-linejoin="round" fill="#1a305c" text-anchor="middle" textLength="7.66" lengthAdjust="spacingAndGlyphs">2</text>
<text x="572.50" y="514.20" font-size="14.5" font-weight="normal" stroke="#34425f" stroke-width="0.2" stroke-linejoin="round" fill="#34425f" text-anchor="middle" textLength="7.26" lengthAdjust="spacingAndGlyphs">0</text>
<text x="586.40" y="514.20" font-size="14.5" font-weight="normal" stroke="#34425f" stroke-width="0.2" stroke-linejoin="round" fill="#34425f" text-anchor="middle" textLength="7.26" lengthAdjust="spacingAndGlyphs">1</text>
<text x="600.30" y="514.20" font-size="14.5" font-weight="normal" stroke="#34425f" stroke-width="0.2" stroke-linejoin="round" fill="#34425f" text-anchor="middle" textLength="7.26" lengthAdjust="spacingAndGlyphs">0</text>
<text x="636.75" y="514.20" font-size="14.5" font-weight="bold" stroke="#1a305c" stroke-width="0.35" stroke-linejoin="round" fill="#1a305c" text-anchor="middle" textLength="19.15" lengthAdjust="spacingAndGlyphs">6,5</text>
<text x="665.50" y="514.20" font-size="14.5" font-weight="normal" stroke="#34425f" stroke-width="0.2" stroke-linejoin="round" fill="#34425f" text-anchor="middle" textLength="7.26" lengthAdjust="spacingAndGlyphs">1</text>
<text x="679.75" y="514.20" font-size="14.5" font-weight="normal" stroke="#34425f" stroke-width="0.2" stroke-linejoin="round" fill="#34425f" text-anchor="middle" textLength="7.26" lengthAdjust="spacingAndGlyphs">1</text>
<text x="693.75" y="514.20" font-size="14.5" font-weight="normal" stroke="#34425f" stroke-width="0.2" stroke-linejoin="round" fill="#34425f" text-anchor="middle" textLength="7.26" lengthAdjust="spacingAndGlyphs">1</text>
<text x="72.00" y="545.60" font-size="14.5" font-weight="bold" stroke="#1a305c" stroke-width="0.35" stroke-linejoin="round" fill="#1a305c" text-anchor="middle" textLength="19.15" lengthAdjust="spacingAndGlyphs">10.</text>
<text x="103.25" y="545.60" font-size="14.5" font-weight="bold" stroke="#1a305c" stroke-width="0.35" stroke-linejoin="round" fill="#1a305c" text-anchor="start" textLength="48.00" lengthAdjust="spacingAndGlyphs">Bartoň</text>
<text x="232.00" y="545.60" font-size="14.5" font-weight="normal" stroke="#34425f" stroke-width="0.2" stroke-linejoin="round" fill="#34425f" text-anchor="start" textLength="53.00" lengthAdjust="spacingAndGlyphs">Dominik</text>
<text x="355.50" y="545.60" font-size="14.5" font-weight="normal" stroke="#34425f" stroke-width="0.2" stroke-linejoin="round" fill="#34425f" text-anchor="start" textLength="25.75" lengthAdjust="spacingAndGlyphs">KAR</text>
<text x="444.50" y="545.60" font-size="14.5" font-weight="bold" stroke="#1a305c" stroke-width="0.35" stroke-linejoin="round" fill="#1a305c" text-anchor="middle" textLength="7.66" lengthAdjust="spacingAndGlyphs">8</text>
<text x="476.25" y="545.60" font-size="14.5" font-weight="normal" stroke="#34425f" stroke-width="0.2" stroke-linejoin="round" fill="#34425f" text-anchor="middle" textLength="7.26" lengthAdjust="spacingAndGlyphs">0</text>
<text x="490.25" y="545.60" font-size="14.5" font-weight="normal" stroke="#34425f" stroke-width="0.2" stroke-linejoin="round" fill="#34425f" text-anchor="middle" textLength="7.26" lengthAdjust="spacingAndGlyphs">4</text>
<text x="504.00" y="545.60" font-size="14.5" font-weight="normal" stroke="#34425f" stroke-width="0.2" stroke-linejoin="round" fill="#34425f" text-anchor="middle" textLength="7.26" lengthAdjust="spacingAndGlyphs">2</text>
<text x="544.30" y="545.60" font-size="14.5" font-weight="bold" stroke="#1a305c" stroke-width="0.35" stroke-linejoin="round" fill="#1a305c" text-anchor="middle" textLength="7.66" lengthAdjust="spacingAndGlyphs">1</text>
<text x="572.50" y="545.60" font-size="14.5" font-weight="normal" stroke="#34425f" stroke-width="0.2" stroke-linejoin="round" fill="#34425f" text-anchor="middle" textLength="7.26" lengthAdjust="spacingAndGlyphs">0</text>
<text x="586.40" y="545.60" font-size="14.5" font-weight="normal" stroke="#34425f" stroke-width="0.2" stroke-linejoin="round" fill="#34425f" text-anchor="middle" textLength="7.26" lengthAdjust="spacingAndGlyphs">1</text>
<text x="600.30" y="545.60" font-size="14.5" font-weight="normal" stroke="#34425f" stroke-width="0.2" stroke-linejoin="round" fill="#34425f" text-anchor="middle" textLength="7.26" lengthAdjust="spacingAndGlyphs">0</text>
<text x="636.75" y="545.60" font-size="14.5" font-weight="bold" stroke="#1a305c" stroke-width="0.35" stroke-linejoin="round" fill="#1a305c" text-anchor="middle" textLength="7.66" lengthAdjust="spacingAndGlyphs">7</text>
<text x="665.50" y="545.60" font-size="14.5" font-weight="normal" stroke="#34425f" stroke-width="0.2" stroke-linejoin="round" fill="#34425f" text-anchor="middle" textLength="7.26" lengthAdjust="spacingAndGlyphs">0</text>
<text x="679.75" y="545.60" font-size="14.5" font-weight="normal" stroke="#34425f" stroke-width="0.2" stroke-linejoin="round" fill="#34425f" text-anchor="middle" textLength="7.26" lengthAdjust="spacingAndGlyphs">3</text>
<text x="693.75" y="545.60" font-size="14.5" font-weight="normal" stroke="#34425f" stroke-width="0.2" stroke-linejoin="round" fill="#34425f" text-anchor="middle" textLength="7.26" lengthAdjust="spacingAndGlyphs">2</text>
<rect x="47.20" y="400.30" width="666.20" height="27.10" fill="none" stroke="#f9b716" stroke-width="2.8"/>
<rect x="49.30" y="461.40" width="666.00" height="32.60" fill="none" stroke="#f9b716" stroke-width="2.8"/>
<rect x="49.30" y="496.40" width="666.00" height="31.00" fill="none" stroke="#f9b716" stroke-width="2.8"/>
<text x="237.00" y="579.50" font-size="12" font-weight="bold" fill="#58585a" text-anchor="start" textLength="292.00" lengthAdjust="spacingAndGlyphs">Kompletní statistiky na: www.new.taekwondo.cz/liga</text>
<text x="527.30" y="630.10" font-size="13.8" font-weight="bold" stroke="#1a305c" stroke-width="0.6" stroke-linejoin="round" fill="#1a305c" text-anchor="start" textLength="62.00" lengthAdjust="spacingAndGlyphs">PARTNEŘI</text>
<rect x="447" y="645.1" width="317" height="1.8" fill="#eeeeee"/>
<path d="M-10,552.5 C-8.33,554.25 -5.83,557.20 0,563 C5.83,568.80 16.67,579.67 25,587.3 C33.33,594.92 41.67,601.84 50,608.75 C58.33,615.66 66.67,622.29 75,628.75 C83.33,635.21 91.67,641.46 100,647.5 C108.33,653.54 116.50,659.67 125,665 C133.50,670.33 144.33,676.00 151,679.5 C157.67,683.00 162.67,684.92 165,686 L165,700 L-10,700 Z" fill="#29a8e0"/>
<path d="M-10,600 C-8.33,601.17 -5.83,603.04 0,607 C5.83,610.96 16.67,618.04 25,623.75 C33.33,629.46 41.67,635.62 50,641.25 C58.33,646.88 66.67,652.29 75,657.5 C83.33,662.71 93.75,668.83 100,672.5 C106.25,676.17 108.33,677.25 112.5,679.5 C116.67,681.75 122.92,684.92 125,686 L125,700 L-10,700 Z" fill="#1a305c"/>
<path d="M-5,760 L280,760 L291.3,762.2 L394.6,800 L-5,800 Z" fill="#1a305c"/>
<path d="M300,735.4 C300.95,735.67 299.37,735.32 305.7,737 C312.03,738.68 326.95,742.80 338,745.5 C349.05,748.20 361.67,751.07 372,753.2 C382.33,755.33 388.93,756.50 400,758.3 C411.07,760.10 428.32,762.78 438.4,764 C448.48,765.22 453.57,765.27 460.5,765.6 C467.43,765.93 476.75,765.93 480,766 L480,769 L330,769 L291.3,762.2 L285,750 Z" fill="#9a1d21"/>
<path d="M291.3,762.2 C299.08,762.77 319.88,764.90 338,765.6 C356.12,766.30 379.58,766.40 400,766.4 C420.42,766.40 439.70,766.72 460.5,765.6 C481.30,764.48 499.95,762.65 524.8,759.7 C549.65,756.75 581.33,752.70 609.6,747.9 C637.87,743.10 668.67,736.00 694.4,730.9 C720.13,725.80 749.73,720.12 764,717.3 C778.27,714.48 777.33,714.55 780,714 L780,800 L394.6,800 Z" fill="#c8222a"/>
<path d="M-5,680 L275,680 A30.7,30.7 0 0 1 305.7,710.7 L305.7,737 C304,752 292,765 266,772 L-5,772 Z" fill="#fff"/>
<text x="105.40" y="722.50" font-size="17.2" font-weight="normal" fill="#231f20" text-anchor="start" textLength="89.10" lengthAdjust="spacingAndGlyphs">ČESKÝ SVAZ</text>
<text x="105.70" y="743.00" font-size="20.3" font-weight="bold" stroke="#231f20" stroke-width="0.6" stroke-linejoin="round" fill="#231f20" text-anchor="start" textLength="179.50" lengthAdjust="spacingAndGlyphs">TAEKWON-DO ITF</text>
<text x="608.80" y="778.80" font-size="14.5" font-weight="bold" stroke="#fff" stroke-width="0.3" stroke-linejoin="round" fill="#fff" text-anchor="start" textLength="139.50" lengthAdjust="spacingAndGlyphs">WWW.TAEKWONDO.CZ</text>
<defs><symbol id="itf" viewBox="14 686 82 84" overflow="visible">
<path id="itfarc" d="M38.27,748.67 A27.6,27.6 0 1 1 72.59,746.87" fill="none"/>
<text font-size="8.4" font-weight="bold" fill="#1d1d1b" stroke="#1d1d1b" stroke-width="0.45" letter-spacing="1.025"><textPath href="#itfarc">ČESKÝ SVAZ TAEKWON-DO</textPath></text>
<path d="M30.1,725 A26.1,26.1 0 0 1 82.3,725 L68.4,725 A11.3,11.3 0 0 0 45.8,725 Z" fill="#fff" stroke="#3a3a3a" stroke-width="0.7" stroke-linejoin="round"/>
<path d="M30.9,724.6 C30.9,712 41,704.6 53,704.6 C66,704.6 75.1,712 75.1,724.6 L68.4,724.6 A11.3,11.3 0 0 0 45.8,724.6 Z" fill="#3c8fd6"/>
<path d="M46.6,720.8 C43.5,712 50,705.2 56.5,704.9 C67,705.5 75.1,712.5 75.1,724.6 L68.4,724.6 A11.3,11.3 0 0 0 46.6,720.8 Z" fill="#e6232b"/>
<text x="43.9" y="740.6" font-size="18" font-weight="bold" fill="#fff" stroke="#6a6a6a" stroke-width="1" stroke-linejoin="round" textLength="24.5" lengthAdjust="spacingAndGlyphs">ITF</text>
<g fill="#fff" stroke="#3a3a3a" stroke-width="0.85" stroke-linejoin="round" stroke-linecap="round">
<path d="M44.4,749.5 C44.2,746.4 46,745.5 49,745.1 C54,744.4 60,744.1 64.5,744.6 C67.6,745 68.8,747 68.8,750 L68.8,759.5 C68.8,762.3 67.3,763.3 65.5,763.3 L57.5,763.3 C55.8,763.3 54.9,762.6 54.7,761.6 C54.2,762.2 53,762.4 51.6,762.4 C49.9,762.4 48.8,761.6 48.6,760.6 C48.2,761 47.3,761.1 46.6,761.1 C45.2,761.1 44.4,760 44.4,758.5 Z"/>
<path d="M48.6,751.2 V760.6 M54.7,750.6 V761.6 M60.5,750.6 V763 M66.2,749.8 V763" fill="none"/>
<path d="M52.5,748.6 Q55,747 57.5,747.8 T62,747.6 T66,747.6" fill="none" stroke-width="0.6"/>
</g>
</symbol></defs>
<use href="#itf" x="14" y="686" width="82" height="84"/>
<g transform="translate(471.1,682.65) scale(0.61,0.655) translate(-54.3,-728.1)"><use href="#itf" x="14" y="686" width="82" height="84"/></g>
<g font-style="italic" font-weight="bold">
<g transform="translate(513,687) scale(1.15,1)">
<text y="0" font-size="23.5" fill="#b9b9b9" stroke="#b9b9b9" stroke-width="3.8" stroke-linejoin="round" x="-0.6 10.2 26.9 42.2 57.6">IPPON</text>
</g>
<ellipse cx="570.6" cy="678.6" rx="10.2" ry="11" fill="#b9b9b9"/>
<g transform="translate(513,687) scale(1.15,1)">
<text y="0" font-size="23.5" fill="#111" stroke="#111" stroke-width="0.9" stroke-linejoin="round" x="-0.6 10.2 26.9 42.2 57.6">IPP<tspan fill="#d8141b" stroke="#d8141b">O</tspan>N</text>
</g>
<ellipse cx="570.6" cy="678.6" rx="8.3" ry="9.4" fill="#d8141b"/>
<path d="M566.3,677.2 l4.8,-3.8 l-0.6,3.2 l4.8,0.9 l-4.5,2.1 l1.3,4.2 l-3.4,-3 l-2.8,1.3 l1.5,-2.8 z" fill="#111"/>
<text x="513.9" y="696.9" font-size="7.3" fill="#111" stroke="#111" stroke-width="0.45" textLength="85.9" lengthAdjust="spacingAndGlyphs">SHOP PRO BOJOVÉ SPORTY</text>
</g>
<g fill="#5d2c86"><path d="M629.9,660.4 L662.6,660.4 L641.7,691.9 Q634.5,692.3 630.3,686.4 L636.9,686.4 L641.2,679.9 L638.8,679.9 Q633,678.8 630.3,673.6 L645.3,673.6 L650.5,665.8 L638.5,665.8 Q632.5,664.8 629.9,660.4 Z"/></g>
<g fill="#d9a93b"><path d="M656.2,667.3 L667.8,667.3 Q666.5,671.6 661.5,672.5 L652.6,672.5 Z"/><path d="M647.2,680.4 L658.9,680.4 Q657.6,684.7 652.6,685.6 L643.6,685.6 Z"/></g>
<text x="622.6" y="705.4" font-size="10.4" font-style="italic" fill="#5d2c86" textLength="24.2" lengthAdjust="spacingAndGlyphs">BACK</text>
<text x="647" y="705.4" font-size="10.4" font-style="italic" font-weight="bold" fill="#d9a93b" textLength="23.7" lengthAdjust="spacingAndGlyphs">FIST</text>
</svg>
</body></html>
